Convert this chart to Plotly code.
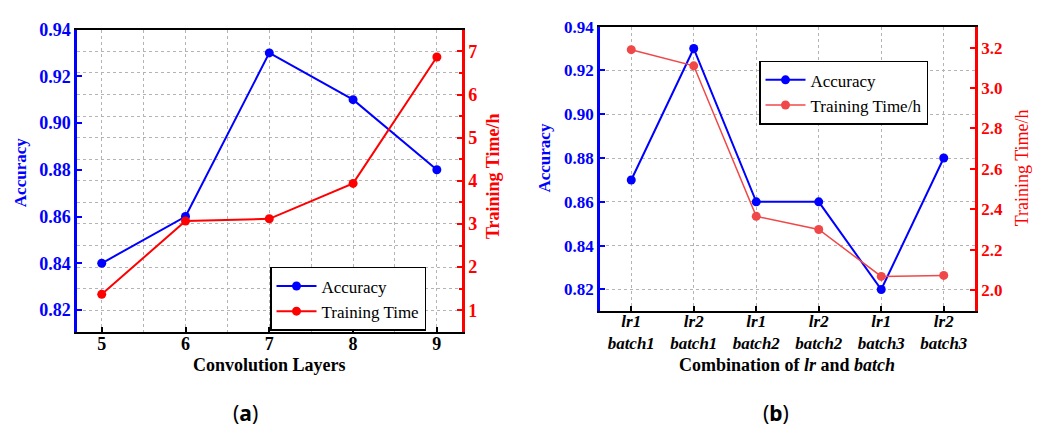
import plotly.graph_objects as go

# ---- data (a) ----
layers = [5, 6, 7, 8, 9]
acc_a = [0.84, 0.86, 0.93, 0.91, 0.88]
time_a = [1.37, 3.07, 3.12, 3.94, 6.87]

# ---- data (b) ----
combo_idx = [0, 1, 2, 3, 4, 5]
combo_lr = ["lr1", "lr2", "lr1", "lr2", "lr1", "lr2"]
combo_batch = ["batch1", "batch1", "batch2", "batch2", "batch3", "batch3"]
acc_b = [0.87, 0.93, 0.86, 0.86, 0.82, 0.88]
time_b = [3.19, 3.11, 2.365, 2.30, 2.068, 2.073]

acc_ticks = [0.82, 0.84, 0.86, 0.88, 0.90, 0.92, 0.94]
time_ticks_a = [1, 2, 3, 4, 5, 6, 7]
time_ticks_b = [2.0, 2.2, 2.4, 2.6, 2.8, 3.0, 3.2]

W, H = 1043, 437
SERIF = "Liberation Serif"
BLUE = "#0000ff"
RED = "#ff0000"
RED_B = "#f04848"
GRID = "#b4b4b4"

def px_x(a, b):
    return [a / W, b / W]

def px_y(top, bottom):
    return [(H - bottom) / H, (H - top) / H]

def bold(vals, fmt):
    return ["<b>" + format(v, fmt) + "</b>" for v in vals]

combo_labels = ["<b><i>%s</i><br><i>%s</i></b>" % (a, b) for a, b in zip(combo_lr, combo_batch)]

fig = go.Figure()

fig.add_trace(go.Scatter(x=layers, y=acc_a, name="Accuracy", mode="lines+markers",
                         line=dict(color=BLUE, width=2), marker=dict(size=9, color=BLUE),
                         xaxis="x", yaxis="y", legend="legend"))
fig.add_trace(go.Scatter(x=layers, y=time_a, name="Training Time", mode="lines+markers",
                         line=dict(color=RED, width=2), marker=dict(size=9, color=RED),
                         xaxis="x", yaxis="y2", legend="legend"))
fig.add_trace(go.Scatter(x=combo_idx, y=acc_b, name="Accuracy", mode="lines+markers",
                         line=dict(color=BLUE, width=2), marker=dict(size=9, color=BLUE),
                         xaxis="x2", yaxis="y3", legend="legend2"))
fig.add_trace(go.Scatter(x=combo_idx, y=time_b, name="Training Time/h", mode="lines+markers",
                         line=dict(color=RED_B, width=1.5), marker=dict(size=9, color=RED_B),
                         xaxis="x2", yaxis="y4", legend="legend2"))

dom_xa = px_x(77, 462)
dom_ya = px_y(20, 330)
dom_xb = px_x(600, 975)
dom_yb = px_y(17, 308)

fig.update_layout(
    width=W, height=H, margin=dict(l=0, r=0, t=0, b=0),
    paper_bgcolor="white", plot_bgcolor="white",
    font=dict(family=SERIF),
    xaxis=dict(domain=dom_xa, range=[4.705, 9.30], tickvals=layers,
               ticktext=bold(layers, "d"), ticks="inside",
               ticklen=5, tickwidth=2, tickcolor="black",
               showline=True, linecolor="black", linewidth=2, mirror=True,
               showgrid=True, gridcolor=GRID, griddash="dot", gridwidth=1,
               minor=dict(dtick=0.5, tick0=5, showgrid=True, gridcolor=GRID, griddash="dot", ticks=""),
               tickfont=dict(family=SERIF, size=18, color="black"),
               ticklabelstandoff=-6,
               zeroline=False, anchor="y"),
    yaxis=dict(domain=dom_ya, range=[0.8104, 0.94], tickvals=acc_ticks,
               ticktext=bold(acc_ticks, ".2f"),
               ticks="inside", ticklen=5, tickwidth=2, tickcolor=BLUE,
               showline=True, linecolor=BLUE, linewidth=2.5, showgrid=False,
               tickfont=dict(family=SERIF, size=18, color=BLUE), zeroline=False, anchor="x"),
    yaxis2=dict(domain=dom_ya, range=[0.487, 7.505], tickvals=time_ticks_a,
                ticktext=bold(time_ticks_a, "d"),
                overlaying="y", side="right", anchor="x",
                ticks="inside", ticklen=5, tickwidth=2, tickcolor=RED,
                showline=True, linecolor=RED, linewidth=2.5,
                showgrid=True, gridcolor=GRID, griddash="dot", gridwidth=1,
                minor=dict(dtick=0.5, tick0=0.5, showgrid=True, gridcolor=GRID, griddash="dot",
                           ticks="inside", ticklen=3, tickcolor=RED),
                tickfont=dict(family=SERIF, size=18, color=RED), zeroline=False),
    xaxis2=dict(domain=dom_xb, range=[-0.5, 5.5], tickvals=combo_idx, ticktext=combo_labels,
                ticks="inside", ticklen=5, tickwidth=2, tickcolor="black",
                showline=True, linecolor="black", linewidth=2, mirror=True,
                showgrid=True, gridcolor=GRID, griddash="dot", gridwidth=1,
                tickfont=dict(family=SERIF, size=17, color="black"),
                ticklabelstandoff=-6,
                zeroline=False, anchor="y3"),
    yaxis3=dict(domain=dom_yb, range=[0.8102, 0.94], tickvals=acc_ticks,
                ticktext=bold(acc_ticks, ".2f"),
                ticks="inside", ticklen=5, tickwidth=2, tickcolor=BLUE,
                showline=True, linecolor=BLUE, linewidth=2.5,
                showgrid=True, gridcolor=GRID, griddash="dot", gridwidth=1,
                tickfont=dict(family=SERIF, size=17, color=BLUE),
                zeroline=False, anchor="x2"),
    yaxis4=dict(domain=dom_yb, range=[1.897, 3.304],
                tickvals=time_ticks_b, ticktext=bold(time_ticks_b, ".1f"),
                overlaying="y3", side="right", anchor="x2",
                ticks="inside", ticklen=5, tickwidth=2, tickcolor=RED,
                showline=True, linecolor=RED, linewidth=2.5, showgrid=False,
                tickfont=dict(family=SERIF, size=17, color=RED),
                zeroline=False),
    legend=dict(x=270 / W, y=(H - 263) / H, xanchor="left", yanchor="top",
                bordercolor="black", borderwidth=1.5, bgcolor="white",
                font=dict(family=SERIF, size=17, color="black"),
                itemwidth=40, tracegroupgap=0),
    legend2=dict(x=759 / W, y=(H - 52) / H, xanchor="left", yanchor="top",
                 bordercolor="black", borderwidth=1.5, bgcolor="white",
                 font=dict(family=SERIF, size=17, color="black"),
                 itemwidth=40, tracegroupgap=0),
    showlegend=True,
)

annotations = [
    dict(text="<b>Accuracy</b>", x=20 / W, y=(H - 167) / H, textangle=-90,
         font=dict(family=SERIF, size=17, color=BLUE)),
    dict(text="<b>Training Time/h</b>", x=493 / W, y=(H - 170) / H, textangle=-90,
         font=dict(family=SERIF, size=18, color=RED)),
    dict(text="<b>Convolution Layers</b>", x=269 / W, y=(H - 363) / H,
         font=dict(family=SERIF, size=18, color="black")),
    dict(text="<b>Accuracy</b>", x=545 / W, y=(H - 152) / H, textangle=-90,
         font=dict(family=SERIF, size=17, color=BLUE)),
    dict(text="Training Time/h", x=1022 / W, y=(H - 162) / H, textangle=-90,
         font=dict(family=SERIF, size=18, color=RED)),
    dict(text="<b>Combination of <i>lr</i> and <i>batch</i></b>", x=787 / W, y=(H - 363) / H,
         font=dict(family=SERIF, size=18, color="black")),
    dict(text="(<b>a</b>)", x=245 / W, y=(H - 412) / H,
         font=dict(family="Noto Sans", size=21, color="black")),
    dict(text="(<b>b</b>)", x=776 / W, y=(H - 412) / H,
         font=dict(family="Noto Sans", size=21, color="black")),
]
for a in annotations:
    a.update(xref="paper", yref="paper", showarrow=False, xanchor="center", yanchor="middle")
fig.update_layout(annotations=annotations)

fig.write_html("out.html", config={"displayModeBar": False},
               post_script="document.body.style.margin='0';document.body.style.overflow='hidden';")
